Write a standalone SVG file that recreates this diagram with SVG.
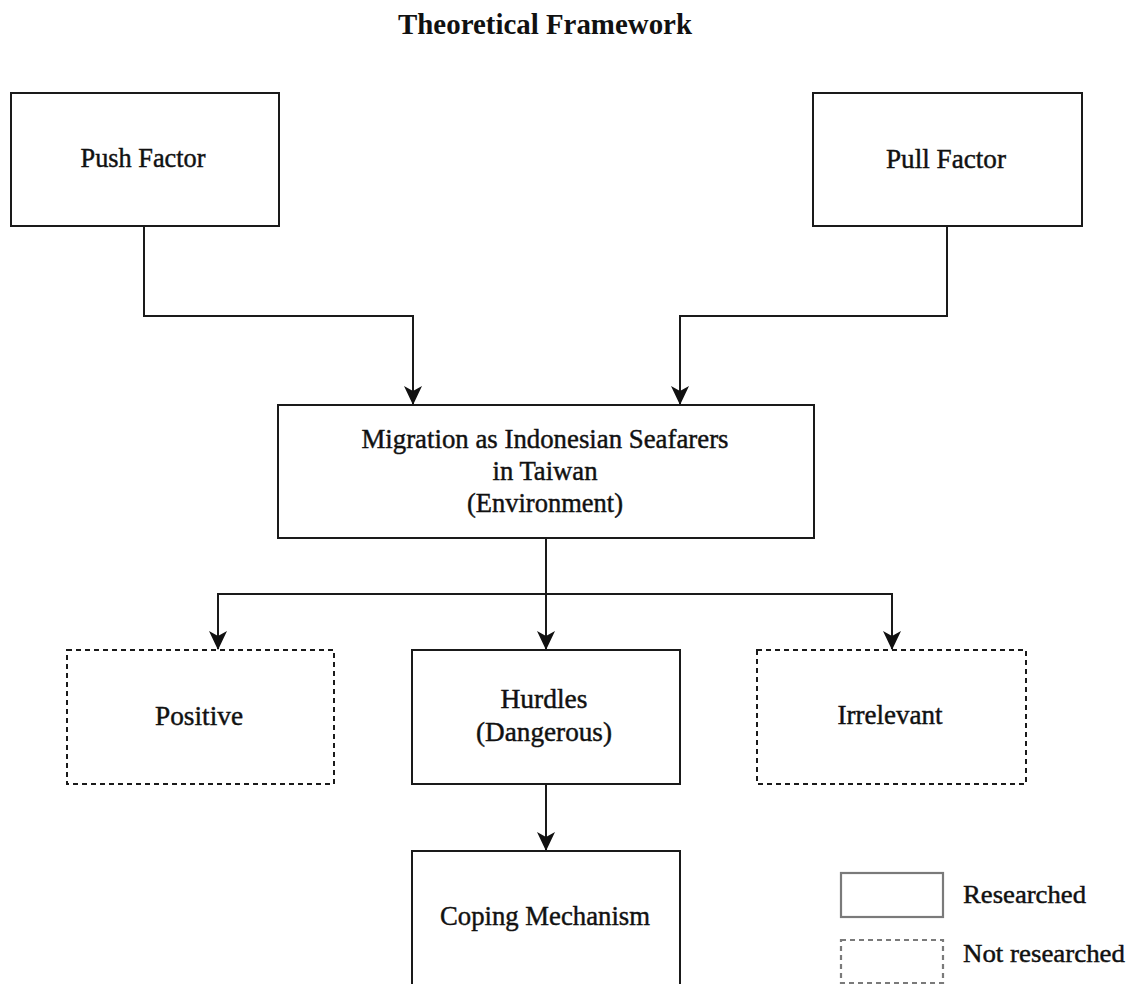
<svg xmlns="http://www.w3.org/2000/svg" width="1141" height="984" viewBox="0 0 1141 984">
<defs>
<style>
.box{fill:#fff;stroke:#1a1a1a;stroke-width:2}
.dash{fill:#fff;stroke:#1a1a1a;stroke-width:2;stroke-dasharray:5 4}
.lgs{fill:#fff;stroke:#7a7a7a;stroke-width:2.2}
.lgd{fill:#fff;stroke:#7a7a7a;stroke-width:2.2;stroke-dasharray:5 4}
.t{font-family:"Liberation Serif","Times New Roman",serif;font-size:28px;fill:#111;text-anchor:middle;stroke:#111;stroke-width:0.45}
.lt{font-family:"Liberation Serif","Times New Roman",serif;font-size:26px;fill:#111;stroke:#111;stroke-width:0.45}
.title{font-family:"Liberation Serif","Times New Roman",serif;font-size:29px;font-weight:bold;fill:#111;text-anchor:middle}
.c{fill:none;stroke:#1a1a1a;stroke-width:2}
</style>
<marker id="ah" markerWidth="19" markerHeight="19" refX="18" refY="9" orient="auto" markerUnits="userSpaceOnUse">
<path d="M0,0 L19,9 L0,18 L5,9 Z" fill="#111"/>
</marker>
</defs>
<rect width="1141" height="984" fill="#fff"/>
<text class="title" x="545" y="34" textLength="294" lengthAdjust="spacingAndGlyphs">Theoretical Framework</text>
<g id="connectors">
<path class="c" d="M144,226 V316 H413 V404" marker-end="url(#ah)"/>
<path class="c" d="M947,226 V316 H680 V404" marker-end="url(#ah)"/>
<path class="c" d="M546,539 V649" marker-end="url(#ah)"/>
<path class="c" d="M546,594 H218 V649" marker-end="url(#ah)"/>
<path class="c" d="M546,594 H892 V649" marker-end="url(#ah)"/>
<path class="c" d="M546,784 V850" marker-end="url(#ah)"/>
</g>
<g id="push">
<rect class="box" x="11" y="93" width="268" height="133"/>
<text class="t" x="143" y="167" textLength="125" lengthAdjust="spacingAndGlyphs">Push Factor</text>
</g>
<g id="pull">
<rect class="box" x="813" y="93" width="269" height="133"/>
<text class="t" x="946" y="168" textLength="120" lengthAdjust="spacingAndGlyphs">Pull Factor</text>
</g>
<g id="migration">
<rect class="box" x="278" y="405" width="536" height="133"/>
<text class="t" x="545" y="448" textLength="367" lengthAdjust="spacingAndGlyphs">Migration as Indonesian Seafarers</text>
<text class="t" x="545" y="480" textLength="105" lengthAdjust="spacingAndGlyphs">in Taiwan</text>
<text class="t" x="545" y="512" textLength="156" lengthAdjust="spacingAndGlyphs">(Environment)</text>
</g>
<g id="positive">
<rect class="dash" x="67" y="650" width="267" height="134"/>
<text class="t" x="199" y="725" textLength="88" lengthAdjust="spacingAndGlyphs">Positive</text>
</g>
<g id="hurdles">
<rect class="box" x="412" y="650" width="268" height="134"/>
<text class="t" x="544" y="708" textLength="87" lengthAdjust="spacingAndGlyphs">Hurdles</text>
<text class="t" x="544" y="741" textLength="136" lengthAdjust="spacingAndGlyphs">(Dangerous)</text>
</g>
<g id="irrelevant">
<rect class="dash" x="757" y="650" width="269" height="134"/>
<text class="t" x="890" y="724" textLength="105" lengthAdjust="spacingAndGlyphs">Irrelevant</text>
</g>
<g id="coping">
<rect class="box" x="412" y="851" width="268" height="140"/>
<text class="t" x="545" y="925" textLength="210" lengthAdjust="spacingAndGlyphs">Coping Mechanism</text>
</g>
<g id="legend-researched">
<rect class="lgs" x="841" y="873" width="102" height="44"/>
<text class="lt" x="963" y="903" textLength="123" lengthAdjust="spacingAndGlyphs">Researched</text>
</g>
<g id="legend-not-researched">
<rect class="lgd" x="841" y="940" width="102" height="43"/>
<text class="lt" x="963" y="962" textLength="162" lengthAdjust="spacingAndGlyphs">Not researched</text>
</g>
</svg>
